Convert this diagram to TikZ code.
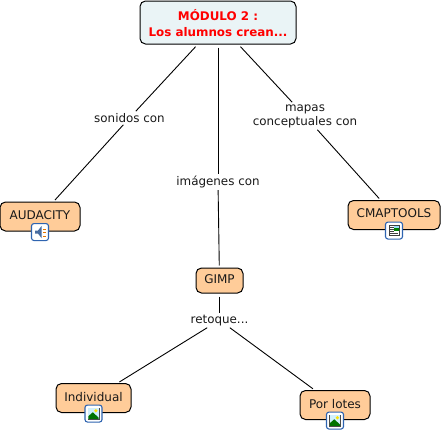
\documentclass[tikz,border=0pt]{standalone}
\usepackage{xcolor}
\usepackage{fontspec}
\setmainfont{DejaVu Sans}
\usetikzlibrary{positioning}
\definecolor{conceptfill}{HTML}{FFCC99}
\definecolor{rootfill}{HTML}{EAF4F6}
\definecolor{rootred}{HTML}{FF0000}
\definecolor{iconblue}{HTML}{2F64B0}
\begin{document}
\begin{tikzpicture}[x=1pt,y=-1pt,node distance=5mm and 7mm,
concept/.style={draw,rounded corners=5.5pt,line width=1pt,fill=conceptfill,align=center,inner sep=0pt,minimum height=29pt,text depth=3pt,font=\fontsize{12}{14}\selectfont,text=black!90},
root/.style={concept,fill=rootfill,minimum width=156pt,minimum height=43pt,text depth=0pt,font=\fontsize{11.9}{16}\selectfont\bfseries,text=rootred},
linking/.style={fill=white,align=center,inner sep=2pt,font=\fontsize{11.9}{14}\selectfont,text=black!90},
link/.style={line width=0.9pt,black},
iconbox/.style={draw=iconblue,fill=white,rounded corners=2.5pt,line width=1.1pt,minimum size=17pt,inner sep=0pt}]
\useasboundingbox (0,0) rectangle (442,431);
\node[root] (modulo) at (218,22.5) {MÓDULO 2 :\\Los alumnos crean...};
\node[linking] (sonidos) at (129.5,118) {sonidos con};
\node[linking] (imagenes) at (218,182) {imágenes con};
\node[linking] (mapas) at (305,116) {mapas\\conceptuales con};
\node[concept,minimum width=80pt] (audacity) at (40,216.5) {AUDACITY};
\node[concept,minimum width=92pt] (cmaptools) at (394,215) {CMAPTOOLS};
\node[concept,minimum width=47pt,minimum height=25pt] (gimp) at (219.5,280.5) {GIMP};
\node[linking,below=19pt of gimp] (retoque) {retoque...};
\node[concept,minimum width=75pt] (individual) at (93.5,398) {Individual};
\node[concept,minimum width=70pt] (porlotes) at (335,405) {Por lotes};
% attachment icons
\node[iconbox,below=-8.5pt of audacity] (iconaudio) {};
\node[iconbox,below=-8.5pt of cmaptools] (icondoc) {};
\node[iconbox,below=-8.5pt of individual] (iconind) {};
\node[iconbox,below=-8.5pt of porlotes] (iconlotes) {};
% speaker
\fill[iconblue!70!gray] ([shift={(-5,-1.5)}]iconaudio.center) -- ++(3,0) -- ++(3.5,-4.5) -- ++(0,12) -- ++(-3.5,-4.5) -- ++(-3,0) -- cycle;
\foreach \y in {-3.5,0,3.5} \fill[orange!90!black] ([shift={(3,\y)}]iconaudio.center) rectangle ++(2.5,1);
% document
\fill[black!75] ([shift={(-5.5,-5.5)}]icondoc.center) rectangle ++(11,11);
\fill[white] ([shift={(-4.5,-4.5)}]icondoc.center) rectangle ++(9,9);
\fill[green!50!black] ([shift={(0,-4.5)}]icondoc.center) rectangle ++(4.5,4.5);
\fill[cyan!40] ([shift={(0,-4.5)}]icondoc.center) rectangle ++(4.5,2);
\foreach \y in {-3.5,-1.5,0.5,2.5} \draw[black!75,line width=0.8pt] ([shift={(-4,\y)}]icondoc.center) -- ++(3.5,0);
\draw[black!75,line width=0.8pt] ([shift={(0,2.5)}]icondoc.center) -- ++(4,0);
% pictures
\foreach \pic in {iconind,iconlotes}{
\fill[black!70] ([shift={(-6,-6)}]\pic.center) rectangle ++(12,12);
\fill[cyan!18] ([shift={(-5.2,-5.2)}]\pic.center) rectangle ++(10.4,10.4);
\fill[green!45!black] ([shift={(-5.2,5.2)}]\pic.center) -- ++(0,-2.5) -- ++(4.5,-4) -- ++(5.9,5.5) -- ++(0,1) -- cycle;
\fill[yellow!85!orange] ([shift={(2.4,-2.8)}]\pic.center) circle (1.8);
}
\draw[link,shorten <=3pt] (modulo) -- (sonidos);
\draw[link,shorten >=2pt] (sonidos) -- (audacity);
\draw[link,shorten <=3pt] (modulo) -- (imagenes);
\draw[link,shorten >=2pt] (imagenes) -- (gimp);
\draw[link,shorten <=3pt] (modulo) -- (mapas);
\draw[link,shorten >=2pt] (mapas) -- (cmaptools);
\draw[link,shorten <=3pt] (gimp) -- (retoque);
\draw[link,shorten >=2pt] (retoque) -- (individual);
\draw[link,shorten >=2pt] (retoque) -- (porlotes);
\end{tikzpicture}
\end{document}
